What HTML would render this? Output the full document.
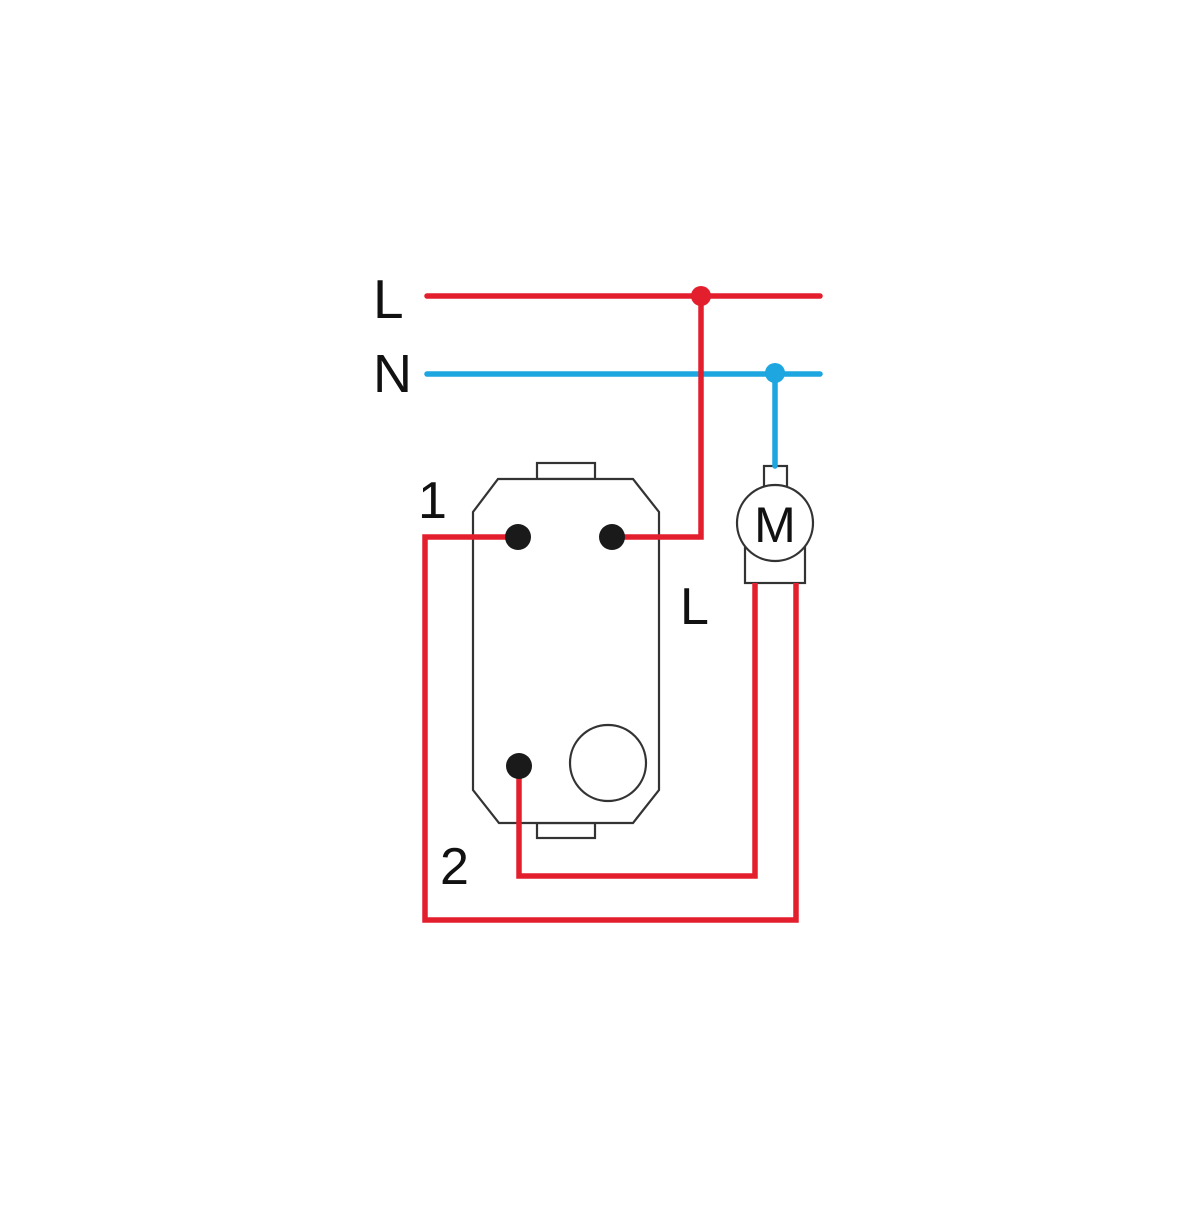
<!DOCTYPE html>
<html><head><style>html,body{margin:0;padding:0;background:#fff}</style></head>
<body>
<svg width="1200" height="1200" viewBox="0 0 1200 1200" xmlns="http://www.w3.org/2000/svg">
<rect width="1200" height="1200" fill="#fff"/>
<g font-family="Liberation Sans, sans-serif" fill="#111">
<text x="373" y="318" font-size="55">L</text>
<text x="373" y="392" font-size="54">N</text>
<text x="418" y="518" font-size="52">1</text>
<text x="680" y="624" font-size="52">L</text>
<text x="440" y="884" font-size="52">2</text>
</g>
<!-- switch body -->
<g fill="none" stroke="#333" stroke-width="2.2">
<rect x="537" y="463" width="58" height="16" fill="#fff"/>
<rect x="537" y="823" width="58" height="15" fill="#fff"/>
<polygon points="498,479 633,479 659,512 659,790 633,823 499,823 473,790 473,512" fill="#fff"/>
<circle cx="608" cy="763" r="38"/>
<!-- motor -->
<rect x="764" y="466" width="23" height="21" fill="#fff"/>
<rect x="745" y="540" width="60" height="43" fill="#fff"/>
<circle cx="775" cy="523" r="38" fill="#fff"/>
</g>
<text x="775" y="542" font-family="Liberation Sans, sans-serif" font-size="50" text-anchor="middle" fill="#111">M</text>
<!-- wires -->
<g fill="none" stroke-linecap="round" stroke-linejoin="miter" stroke-width="5.5">
<line x1="427" y1="374" x2="820" y2="374" stroke="#1da6e0"/>
<line x1="775" y1="374" x2="775" y2="466" stroke="#1da6e0"/>
<line x1="427" y1="296" x2="820" y2="296" stroke="#e31e2d"/>
<polyline points="701,296 701,537 612,537" stroke="#e31e2d"/>
<polyline points="518,537 425,537 425,920 796,920 796,583" stroke="#e31e2d" stroke-linecap="butt"/>
<polyline points="519,766 519,876 755,876 755,583" stroke="#e31e2d" stroke-linecap="butt"/>
</g>
<circle cx="701" cy="296" r="10" fill="#e31e2d"/>
<circle cx="775" cy="373" r="10" fill="#1da6e0"/>
<g fill="#1a1a1a">
<circle cx="518" cy="537" r="13"/>
<circle cx="612" cy="537" r="13"/>
<circle cx="519" cy="766" r="13"/>
</g>
</svg>
</body></html>
